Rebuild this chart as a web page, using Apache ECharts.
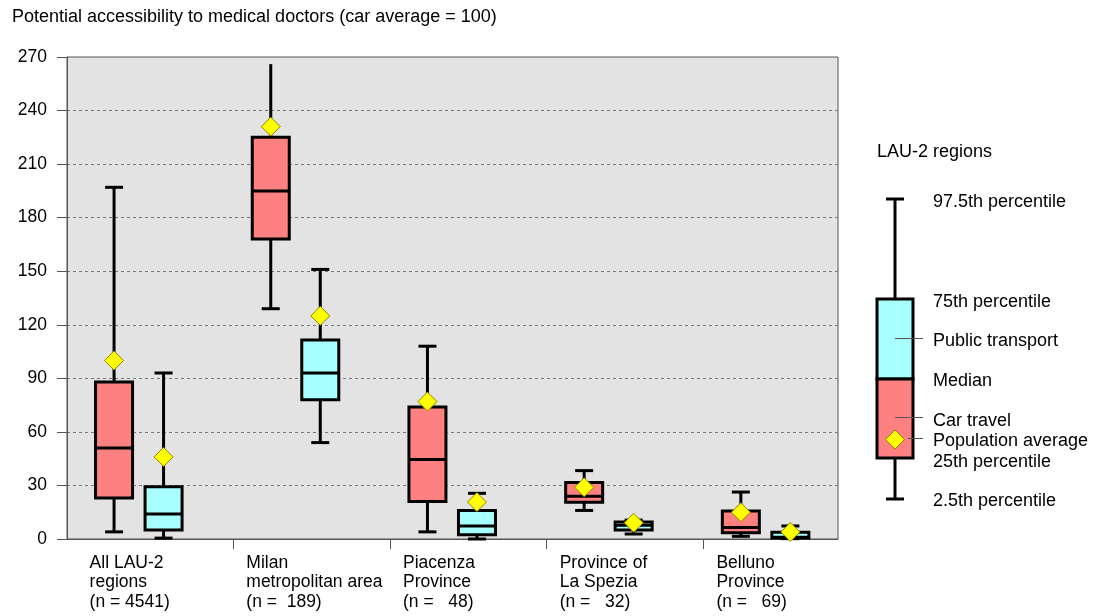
<!DOCTYPE html>
<html>
<head>
<meta charset="utf-8">
<title>Potential accessibility to medical doctors</title>
<script src="https://cdn.jsdelivr.net/npm/echarts@6/dist/echarts.min.js"></script>
<style>
  html, body { margin: 0; padding: 0; background: #ffffff; }
  #chart { width: 1093px; height: 616px; }
</style>
</head>
<body>
<div id="chart"></div>
<script>
// Regions (x-axis categories)
const categories = [
  'All LAU-2\nregions\n(n = 4541)',
  'Milan\nmetropolitan area\n(n =  189)',
  'Piacenza\nProvince\n(n =   48)',
  'Province of\nLa Spezia\n(n =   32)',
  'Belluno\nProvince\n(n =   69)'
];

// Car travel: percentiles and population average
const carP2_5  = [4,   129, 4,    16,   1.5];
const carP25   = [23,  168, 21,   20.6, 3.5];
const carMed   = [51,  195, 44.5, 24,   6.5];
const carP75   = [88,  225, 74,   31.6, 15.7];
const carP97_5 = [197, 266, 108,  38.3, 26.3];
const carMean  = [100, 231, 77,   29,   15];

// Public transport: percentiles and population average
const ptP2_5  = [0.5, 54,    0,    2.8,  0.2];
const ptP25   = [5,   78,    2.4,  5,    0.5];
const ptMed   = [14,  93,    7.3,  7.7,  1.0];
const ptP75   = [29.3, 111.5, 16,  9.5,  3.8];
const ptP97_5 = [93,  151,   25.6, 10.6, 7.3];
const ptMean  = [46,  125,   20.7, 9.1,  3.9];

// Y-axis ticks
const yTicks = [0, 30, 60, 90, 120, 150, 180, 210, 240, 270];

// Whisker end caps drawn on the upper car whisker
const carUpperCap = [true, false, true, true, true];

const FONT = '"Liberation Sans", Arial, sans-serif';
const CAR_FILL = '#ff8080';
const PT_FILL = '#a8ffff';
const CAR_OFFSET = 0.239;
const PT_OFFSET = 0.555;
const BOX_W = 37;
const CAP_HALF = 9;

function boxData(p2, p25, med, p75, p97) {
  return categories.map((_, i) => [i, p2[i], p25[i], med[i], p75[i], p97[i]]);
}

function makeRenderer(offset, fill, upperCaps) {
  return function (params, api) {
    const idx = api.value(0);
    const x = api.coord([idx + offset, 0])[0];
    const y2 = api.coord([0, api.value(1)])[1];
    const y25 = api.coord([0, api.value(2)])[1];
    const yMed = api.coord([0, api.value(3)])[1];
    const y75 = api.coord([0, api.value(4)])[1];
    const y97 = api.coord([0, api.value(5)])[1];
    const line = { stroke: '#000', lineWidth: 3 };
    const kids = [
      { type: 'line', shape: { x1: x, y1: y97, x2: x, y2: y75 }, style: line },
      { type: 'line', shape: { x1: x, y1: y25, x2: x, y2: y2 }, style: line },
      { type: 'line', shape: { x1: x - CAP_HALF, y1: y2, x2: x + CAP_HALF, y2: y2 }, style: line },
      { type: 'rect', shape: { x: x - BOX_W / 2, y: y75, width: BOX_W, height: y25 - y75 },
        style: { fill: fill, stroke: '#000', lineWidth: 3 } },
      { type: 'line', shape: { x1: x - BOX_W / 2, y1: yMed, x2: x + BOX_W / 2, y2: yMed }, style: line }
    ];
    if (!upperCaps || upperCaps[idx]) {
      kids.push({ type: 'line', shape: { x1: x - CAP_HALF, y1: y97, x2: x + CAP_HALF, y2: y97 }, style: line });
    }
    return { type: 'group', children: kids };
  };
}

const chart = echarts.init(document.getElementById('chart'), null, { renderer: 'canvas' });

// Legend drawing on the right
const LX = 895;
const legendLine = { stroke: '#000', lineWidth: 3 };
const leader = { stroke: '#555', lineWidth: 1 };
function legendText(t, y, x) {
  return { type: 'text', x: x || 933, y: y,
    style: { text: t, font: '18px ' + FONT, fill: '#000', verticalAlign: 'middle', align: 'left' } };
}
const legendGraphics = [
  { type: 'text', left: 12, top: 8,
    style: { text: 'Potential accessibility to medical doctors (car average = 100)', font: '18px ' + FONT, fill: '#000' } },
  legendText('LAU-2 regions', 152, 877),
  { type: 'line', shape: { x1: LX, y1: 199, x2: LX, y2: 299 }, style: legendLine },
  { type: 'line', shape: { x1: LX, y1: 458, x2: LX, y2: 499 }, style: legendLine },
  { type: 'line', shape: { x1: LX - CAP_HALF, y1: 199, x2: LX + CAP_HALF, y2: 199 }, style: legendLine },
  { type: 'line', shape: { x1: LX - CAP_HALF, y1: 499, x2: LX + CAP_HALF, y2: 499 }, style: legendLine },
  { type: 'rect', shape: { x: 877, y: 299, width: 36, height: 80 }, style: { fill: PT_FILL, stroke: '#000', lineWidth: 3 } },
  { type: 'rect', shape: { x: 877, y: 379, width: 36, height: 79 }, style: { fill: CAR_FILL, stroke: '#000', lineWidth: 3 } },
  { type: 'line', shape: { x1: LX, y1: 338.5, x2: 923, y2: 338.5 }, style: leader },
  { type: 'line', shape: { x1: LX, y1: 417.5, x2: 923, y2: 417.5 }, style: leader },
  { type: 'line', shape: { x1: 908, y1: 438.5, x2: 923, y2: 438.5 }, style: leader },
  { type: 'polygon', shape: { points: [[LX, 430], [LX + 9.5, 439.5], [LX, 449], [LX - 9.5, 439.5]] },
    style: { fill: '#ffff00', stroke: '#8a8a00', lineWidth: 1 } },
  legendText('97.5th percentile', 202),
  legendText('75th percentile', 302),
  legendText('Public transport', 341),
  legendText('Median', 381),
  legendText('Car travel', 421),
  legendText('Population average', 441),
  legendText('25th percentile', 462),
  legendText('2.5th percentile', 501)
];

chart.setOption({
  animation: false,
  backgroundColor: '#ffffff',
  textStyle: { fontFamily: FONT },
  grid: {
    left: 67, top: 57, width: 771, height: 482,
    show: true, backgroundColor: '#e3e3e3', borderColor: '#555', borderWidth: 1
  },
  xAxis: {
    type: 'value',
    min: -0.0613,
    max: 4.859,
    axisLine: { show: true, onZero: false, lineStyle: { color: '#555', width: 1 } },
    axisTick: { show: true, length: 10, inside: false, customValues: [1, 2, 3, 4],
      lineStyle: { color: '#555', width: 1 } },
    axisLabel: {
      customValues: [0, 1, 2, 3, 4],
      formatter: (v) => categories[Math.round(v)] || '',
      align: 'left', verticalAlign: 'top',
      padding: [0, 0, 0, 13],
      margin: 14,
      fontSize: 17.5, lineHeight: 19.7, color: '#000', fontFamily: FONT
    },
    splitLine: { show: false }
  },
  yAxis: {
    type: 'value',
    min: yTicks[0],
    max: yTicks[yTicks.length - 1],
    interval: yTicks[1] - yTicks[0],
    axisLine: { show: true, onZero: false, lineStyle: { color: '#555', width: 1 } },
    axisTick: { show: true, length: 10, inside: false, lineStyle: { color: '#555', width: 1 } },
    axisLabel: { margin: 20, fontSize: 17.5, color: '#000', fontFamily: FONT },
    splitLine: { show: true, showMinLine: false, showMaxLine: false,
      lineStyle: { color: '#777', type: [3, 3], width: 1 } }
  },
  graphic: legendGraphics,
  series: [
    {
      name: 'Car travel', type: 'custom', z: 3,
      renderItem: makeRenderer(CAR_OFFSET, CAR_FILL, carUpperCap),
      encode: { x: 0, y: [1, 2, 3, 4, 5] },
      data: boxData(carP2_5, carP25, carMed, carP75, carP97_5)
    },
    {
      name: 'Public transport', type: 'custom', z: 3,
      renderItem: makeRenderer(PT_OFFSET, PT_FILL, null),
      encode: { x: 0, y: [1, 2, 3, 4, 5] },
      data: boxData(ptP2_5, ptP25, ptMed, ptP75, ptP97_5)
    },
    {
      name: 'Car population average', type: 'scatter', z: 5,
      symbol: 'diamond', symbolSize: 19,
      itemStyle: { color: '#ffff00', borderColor: '#8a8a00', borderWidth: 1, opacity: 1 },
      data: carMean.map((v, i) => [i + CAR_OFFSET, v])
    },
    {
      name: 'Public transport population average', type: 'scatter', z: 5,
      symbol: 'diamond', symbolSize: 19,
      itemStyle: { color: '#ffff00', borderColor: '#8a8a00', borderWidth: 1, opacity: 1 },
      data: ptMean.map((v, i) => [i + PT_OFFSET, v])
    }
  ]
});
</script>
</body>
</html>
